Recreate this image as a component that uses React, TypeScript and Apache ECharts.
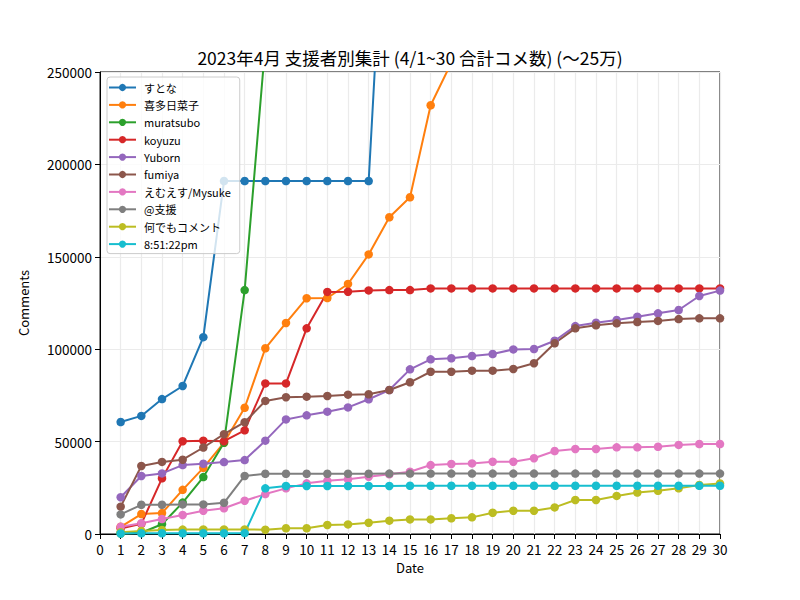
import React, { useEffect, useRef } from "react";
import * as echarts from "echarts";

// Days of April 2023
const days: number[] = Array.from({ length: 30 }, (_, i) => i + 1);

const seriesNames: string[] = [
  "すとな",
  "喜多日菜子",
  "muratsubo",
  "koyuzu",
  "Yuborn",
  "fumiya",
  "えむえす/Mysuke",
  "@支援",
  "何でもコメント",
  "8:51:22pm",
];

const colors: string[] = [
  "#1f77b4", "#ff7f0e", "#2ca02c", "#d62728", "#9467bd",
  "#8c564b", "#e377c2", "#7f7f7f", "#bcbd22", "#17becf",
];

// Cumulative comment counts per day; null = beyond the 250000 ceiling
const sutona: (number | null)[] = [
  60600, 63900, 73000, 80100, 106500, 191000, 191000, 191000, 191000, 191000,
  191000, 191000, 191000, 394000, null, null, null, null, null, null,
  null, null, null, null, null, null, null, null, null, null,
];
const kitaHinako: (number | null)[] = [
  3900, 10800, 11300, 23900, 35800, 49400, 68300, 100500, 114200, 127600,
  127700, 135300, 151300, 171400, 182200, 232000, 255000, null, null, null,
  null, null, null, null, null, null, null, null, null, null,
];
const muratsubo: (number | null)[] = [
  300, 700, 5300, 17000, 30800, 49400, 132000, 265000, null, null,
  null, null, null, null, null, null, null, null, null, null,
  null, null, null, null, null, null, null, null, null, null,
];
const koyuzu: number[] = [
  3000, 5500, 30100, 50200, 50500, 50200, 56100, 81500, 81500, 111300,
  131000, 131100, 131800, 132000, 132000, 132900, 132900, 132900, 132900, 132900,
  132900, 132900, 132900, 132900, 132900, 132900, 132900, 132900, 132900, 132900,
];
const yuborn: number[] = [
  19900, 31400, 32800, 37300, 38000, 38900, 40000, 50500, 62000, 64200,
  66200, 68500, 72900, 77900, 89100, 94500, 95100, 96300, 97400, 99900,
  100100, 104600, 112500, 114300, 115800, 117600, 119400, 121200, 128800, 131700,
];
const fumiya: number[] = [
  14800, 36800, 39000, 40200, 46800, 54000, 60500, 72000, 74000, 74300,
  74700, 75400, 75600, 77900, 82100, 87800, 87800, 88400, 88400, 89300,
  92400, 103200, 111300, 112900, 114000, 114700, 115300, 116300, 116700, 116700,
];
const mysuke: number[] = [
  3900, 5800, 8100, 10300, 12600, 13900, 18000, 21600, 24700, 27400,
  28800, 29600, 31000, 32300, 33700, 37300, 37900, 38200, 39100, 39100,
  41000, 44900, 46000, 46000, 46900, 46900, 47200, 48200, 48700, 48700,
];
const shien: number[] = [
  10600, 15800, 15800, 16000, 16000, 16900, 31400, 32600, 32600, 32600,
  32600, 32600, 32600, 32700, 32700, 32700, 32700, 32700, 32700, 32700,
  32700, 32700, 32700, 32700, 32700, 32700, 32700, 32700, 32700, 32700,
];
const nandemo: number[] = [
  1000, 1600, 2200, 2400, 2500, 2500, 2500, 2300, 3100, 3100,
  4900, 5200, 6100, 7200, 7900, 7900, 8500, 9000, 11500, 12600,
  12600, 14400, 18400, 18400, 20600, 22400, 23400, 24700, 26500, 27300,
];
const pm85122: number[] = [
  300, 400, 400, 400, 400, 400, 500, 24700, 26000, 26000,
  26000, 26000, 26000, 26000, 26100, 26100, 26100, 26100, 26100, 26100,
  26100, 26100, 26100, 26100, 26100, 26100, 26100, 26100, 26100, 26100,
];

const allValues = [
  sutona, kitaHinako, muratsubo, koyuzu, yuborn,
  fumiya, mysuke, shien, nandemo, pm85122,
];

const xTicks = { min: 0, max: 30, interval: 1 };
const yTicks = { min: 0, max: 250000, interval: 50000 };

const FONT = "'Noto Sans CJK JP', 'DejaVu Sans', sans-serif";

export default function App() {
  const ref = useRef<HTMLDivElement>(null);

  useEffect(() => {
    document.body.style.margin = "0";
    if (!ref.current) return;
    const chart = echarts.init(ref.current, undefined, { renderer: "svg" });

    const series = seriesNames.map((name, i) => ({
      name,
      type: "line",
      data: days.map((d, j) => [d, allValues[i][j]]),
      connectNulls: false,
      clip: true,
      symbol: "circle",
      symbolSize: 8.5,
      showSymbol: true,
      lineStyle: { width: 2, color: colors[i] },
      itemStyle: { color: colors[i] },
      emphasis: { disabled: true },
    }));

    chart.setOption({
      animation: false,
      textStyle: { fontFamily: FONT },
      color: colors,
      graphic: [
        {
          type: "text",
          x: 410,
          y: 57,
          style: {
            text: "2023年4月 支援者別集計 (4/1~30 合計コメ数) (〜25万)",
            fontFamily: FONT,
            fontSize: 17.5,
            fill: "#000",
            textAlign: "center",
            textVerticalAlign: "middle",
          },
        },
      ],
      grid: {
        left: 100,
        right: 80,
        top: 72,
        bottom: 66,
        show: true,
        borderColor: "#000",
        borderWidth: 1,
        backgroundColor: "transparent",
      },
      legend: {
        orient: "vertical",
        left: 107,
        top: 77,
        padding: [5, 9, 4, 1],
        itemWidth: 27,
        itemHeight: 9,
        itemGap: 6.4,
        backgroundColor: "rgba(255,255,255,0.8)",
        borderColor: "#cccccc",
        borderWidth: 1,
        borderRadius: 3,
        textStyle: {
          fontFamily: FONT,
          fontSize: 11,
          color: "#000",
          padding: [0, 0, 0, 3],
        },
        data: seriesNames,
      },
      xAxis: {
        type: "value",
        min: xTicks.min,
        max: xTicks.max,
        interval: xTicks.interval,
        name: "Date",
        nameLocation: "middle",
        nameGap: 27,
        nameTextStyle: { fontFamily: FONT, fontSize: 13, color: "#000" },
        axisLine: { show: true, onZero: false, lineStyle: { color: "#000", width: 1 } },
        axisTick: { show: true, length: 5, lineStyle: { color: "#000" } },
        axisLabel: { margin: 8, fontFamily: FONT, fontSize: 13.5, color: "#000" },
        splitLine: { show: true, lineStyle: { color: "#ebebeb", width: 1.2 } },
      },
      yAxis: {
        type: "value",
        min: yTicks.min,
        max: yTicks.max,
        interval: yTicks.interval,
        name: "Comments",
        nameLocation: "middle",
        nameGap: 70,
        nameRotate: 90,
        nameTextStyle: { fontFamily: FONT, fontSize: 13, color: "#000" },
        axisLine: { show: true, lineStyle: { color: "#000", width: 1 } },
        axisTick: { show: true, length: 5, lineStyle: { color: "#000" } },
        axisLabel: {
          margin: 8,
          fontFamily: FONT,
          fontSize: 13.5,
          color: "#000",
          formatter: (v: number) => String(v),
        },
        splitLine: { show: true, lineStyle: { color: "#ebebeb", width: 1.2 } },
      },
      series,
    });

    return () => chart.dispose();
  }, []);

  return <div ref={ref} style={{ width: 800, height: 600 }} />;
}
